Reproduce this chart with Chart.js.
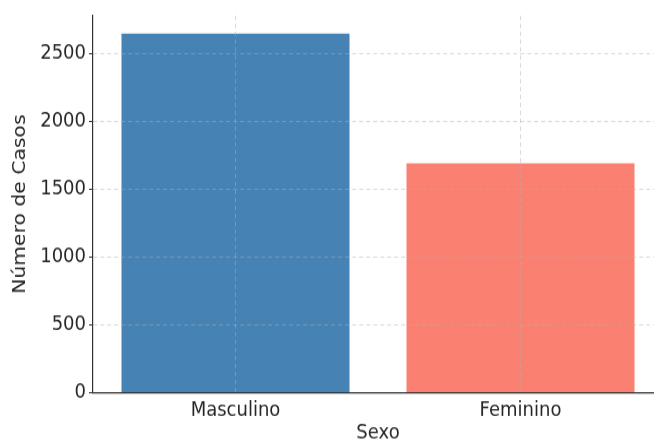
<!DOCTYPE html>
<html>
<head>
<meta charset="utf-8">
<script src="https://cdn.jsdelivr.net/npm/chart.js@4/dist/chart.umd.min.js"></script>
<style>
    html { overflow: hidden; }
    body { margin: 0; padding: 0; background: #fff; height: 443px; }
    #wrap { width: 670px; height: 392px; transform: scaleY(1.1301); transform-origin: 0 0; }
</style>
</head>
<body>
<div id="wrap"><canvas id="casosChart" width="670" height="392"></canvas></div>
<script>
// Data
const categorias = ['Masculino', 'Feminino'];
const casos = [2645, 1690];
const coresBarras = ['#4682B4', '#FA8072'];
const yTicks = [0, 500, 1000, 1500, 2000, 2500];
const yMax = 2777; // top of the axis (max value + 5% margin)

const textColor = '#262626';
const gridColor = 'rgba(176,176,176,0.6)';
const fontFamily = "'DejaVu Sans', sans-serif";

function buildChart() {
    const ctx = document.getElementById('casosChart').getContext('2d');
    new Chart(ctx, {
        type: 'bar',
        data: {
            labels: categorias,
            datasets: [{
                label: 'Número de Casos',
                data: casos,
                backgroundColor: coresBarras,
                borderWidth: 0,
                categoryPercentage: 1.0,
                barPercentage: 0.8
            }]
        },
        options: {
            responsive: false,
            animation: false,
            layout: { padding: { top: 11, right: 7, left: 0, bottom: 0 } },
            plugins: {
                legend: { display: false },
                tooltip: { enabled: false }
            },
            scales: {
                x: {
                    offset: true,
                    grid: { offset: false, color: gridColor, lineWidth: 0.8, drawTicks: false, z: 1 },
                    border: { color: '#333', width: 1.2, dash: [4, 3], z: 2 },
                    ticks: { color: textColor, padding: 5, font: { family: fontFamily, size: 18 } },
                    title: {
                        display: true, text: 'Sexo', color: textColor,
                        padding: 0, font: { family: fontFamily, size: 18, lineHeight: 1.0 }
                    },
                    afterFit: scale => { scale.height = 44.5; }
                },
                y: {
                    min: 0,
                    max: yMax,
                    grid: { color: gridColor, lineWidth: 0.8, tickColor: '#333', tickLength: 4, tickWidth: 1, z: 1 },
                    border: { color: '#333', width: 1.2, dash: [4, 3], z: 2 },
                    ticks: {
                        color: textColor, padding: 3,
                        font: { family: fontFamily, size: 18 },
                        callback: value => String(value)
                    },
                    afterBuildTicks: scale => { scale.ticks = yTicks.map(v => ({ value: v })); },
                    title: {
                        display: true, text: 'Número de Casos', color: textColor,
                        padding: { top: 10, bottom: 0 }, font: { family: fontFamily, size: 18 }
                    },
                    afterFit: scale => { scale.width = 93; }
                }
            }
        }
    });
}

document.addEventListener('DOMContentLoaded', buildChart);
</script>
</body>
</html>
